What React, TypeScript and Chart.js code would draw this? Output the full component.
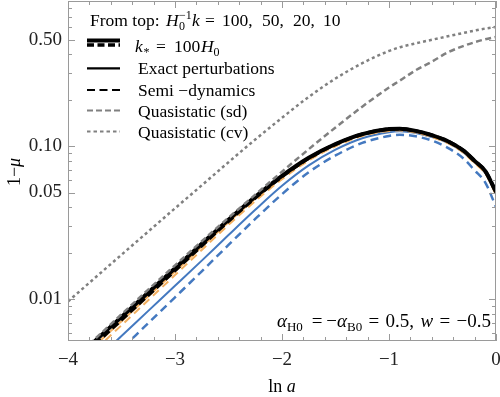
import React, { useEffect, useRef } from "react";
import { Chart, registerables } from "chart.js";

Chart.register(...registerables);

const SERIF = '"Liberation Serif", "Times New Roman", Times, serif';

// ln a grid
const lnA = [-4, -3.75, -3.5, -3.25, -3, -2.75, -2.5, -2.25, -2, -1.75, -1.5, -1.25, -1, -0.9, -0.75, -0.6, -0.45, -0.3, -0.2, -0.1, 0];

// k = 100 (black, thick)
const exactK100 = [0.0037, 0.00534, 0.00769, 0.0111, 0.016, 0.0231, 0.0332, 0.0469, 0.0643, 0.0844, 0.1038, 0.1205, 0.1299, 0.1307, 0.1265, 0.1185, 0.1082, 0.0935, 0.0805, 0.069, 0.0504];
const semiK100 = [0.00352, 0.0051, 0.00736, 0.01067, 0.01546, 0.02247, 0.03252, 0.04615, 0.06356, 0.08382, 0.10332, 0.12022, 0.1299, 0.1307, 0.1265, 0.1185, 0.1082, 0.0935, 0.0805, 0.069, 0.0504];
// k = 50 (orange)
const exactK50 = [0.003414, 0.004984, 0.00721, 0.010479, 0.01521, 0.02211, 0.032, 0.04552, 0.06284, 0.08267, 0.10191, 0.11857, 0.12782, 0.12861, 0.12448, 0.11634, 0.10598, 0.09137, 0.07849, 0.06712, 0.0488];
const semiK50 = [0.003149, 0.004651, 0.006775, 0.009893, 0.014425, 0.021067, 0.0307, 0.04397, 0.06112, 0.08097, 0.10028, 0.11695, 0.12636, 0.12714, 0.12305, 0.11527, 0.10501, 0.09053, 0.07777, 0.0665, 0.04835];
// k = 20 (blue)
const exactK20 = [0.00268, 0.003959, 0.005767, 0.00842, 0.012278, 0.017931, 0.026372, 0.038563, 0.055362, 0.075222, 0.095323, 0.11324, 0.12405, 0.12568, 0.12249, 0.11527, 0.10549, 0.09116, 0.07849, 0.06712, 0.04891];
const semiK20 = [0.002129, 0.003218, 0.004742, 0.007004, 0.01033, 0.015262, 0.022706, 0.033587, 0.048777, 0.067818, 0.087337, 0.10543, 0.11711, 0.1192, 0.11644, 0.10933, 0.098, 0.08295, 0.06979, 0.05806, 0.04022];
// quasistatic
const quasiSd = [0.0038, 0.0055, 0.008, 0.0116, 0.0167, 0.024, 0.0342, 0.0484, 0.0684, 0.096, 0.133, 0.182, 0.243, 0.269, 0.315, 0.358, 0.412, 0.455, 0.48, 0.502, 0.52];
const quasiCv = [0.0097, 0.0138, 0.0196, 0.0278, 0.0394, 0.0557, 0.0789, 0.111, 0.154, 0.211, 0.278, 0.35, 0.421, 0.445, 0.472, 0.498, 0.525, 0.553, 0.572, 0.59, 0.604];

// ticks
const xMajorTicks = [-4, -3, -2, -1, 0];
const xMinorTicks = [-3.8, -3.6, -3.4, -3.2, -2.8, -2.6, -2.4, -2.2, -1.8, -1.6, -1.4, -1.2, -0.8, -0.6, -0.4, -0.2];
const yMajorTicks = [0.01, 0.05, 0.1, 0.5];
const yMinorTicks = [0.006, 0.007, 0.008, 0.009, 0.02, 0.03, 0.04, 0.06, 0.07, 0.08, 0.09, 0.2, 0.3, 0.4, 0.6, 0.7, 0.8];

const BLACK = "#000000";
const ORANGE = "#F2AE5E";
const BLUE = "#4479C0";
const GRAY = "#808080";
const FRAME = "#9a9a9a";

type Seg = { t: string; size: number; italic?: boolean; dy?: number; sup?: string; supDy?: number; at?: number; gap?: number };

function fnt(size: number, italic = false) {
  return `${italic ? "italic " : ""}${size}px ${SERIF}`;
}

function segWidth(ctx: CanvasRenderingContext2D, s: Seg) {
  ctx.font = fnt(s.size, s.italic);
  let sw = ctx.measureText(s.t).width;
  if (s.sup) sw = Math.max(sw, ctx.measureText(s.sup).width);
  return sw;
}

function segsWidth(ctx: CanvasRenderingContext2D, segs: Seg[]) {
  let w = 0;
  for (const s of segs) w += segWidth(ctx, s) + (s.gap || 0);
  return w;
}

// draws segments; a segment with "at" is placed at that absolute x
function drawSegs(ctx: CanvasRenderingContext2D, x: number, y: number, segs: Seg[]) {
  for (const s of segs) {
    if (s.at !== undefined) x = s.at;
    ctx.font = fnt(s.size, s.italic);
    ctx.fillText(s.t, x, y + (s.dy || 0));
    if (s.sup) ctx.fillText(s.sup, x, y + (s.supDy || 0));
    x += segWidth(ctx, s) + (s.gap || 0);
  }
}

function line(ctx: CanvasRenderingContext2D, x1: number, x2: number, y: number, color: string, width: number, dash: number[]) {
  ctx.save();
  ctx.strokeStyle = color;
  ctx.lineWidth = width;
  ctx.setLineDash(dash);
  ctx.beginPath();
  ctx.moveTo(x1, y);
  ctx.lineTo(x2, y);
  ctx.stroke();
  ctx.restore();
}

const decorPlugin = {
  id: "decor",
  afterDatasetsDraw(chart: any) {
    const ctx: CanvasRenderingContext2D = chart.ctx;
    const { left, right, top, bottom } = chart.chartArea;
    const xs = chart.scales.x;
    const ys = chart.scales.y;
    ctx.save();
    // frame
    ctx.strokeStyle = FRAME;
    ctx.lineWidth = 1;
    ctx.setLineDash([]);
    ctx.strokeRect(Math.round(left) + 0.5, Math.round(top) + 0.5, Math.round(right - left) - 1, Math.round(bottom - top) - 1);
    const tickX = (v: number, len: number) => {
      const px = Math.round(xs.getPixelForValue(v)) + 0.5;
      ctx.beginPath();
      ctx.moveTo(px, bottom);
      ctx.lineTo(px, bottom - len);
      ctx.moveTo(px, top);
      ctx.lineTo(px, top + len);
      ctx.stroke();
    };
    const tickY = (v: number, len: number) => {
      const py = Math.round(ys.getPixelForValue(v)) + 0.5;
      ctx.beginPath();
      ctx.moveTo(left, py);
      ctx.lineTo(left + len, py);
      ctx.moveTo(right, py);
      ctx.lineTo(right - len, py);
      ctx.stroke();
    };
    xMajorTicks.forEach((v) => tickX(v, 7));
    xMinorTicks.forEach((v) => tickX(v, 4));
    yMajorTicks.forEach((v) => tickY(v, 7));
    yMinorTicks.forEach((v) => tickY(v, 4));

    // legend
    ctx.fillStyle = "#000";
    ctx.textBaseline = "alphabetic";
    ctx.textAlign = "left";
    const L = 17.5;
    drawSegs(ctx, 90, 26, [
      { t: "From top:", size: L, at: 90 },
      { t: "H", size: L, italic: true, at: 166 },
      { t: "0", size: 12, dy: 4, sup: "\u22121", supDy: -7, at: 179 },
      { t: "k", size: L, italic: true, at: 192 },
      { t: "=", size: L, at: 205 },
      { t: "100,", size: L, at: 222 },
      { t: "50,", size: L, at: 262 },
      { t: "20,", size: L, at: 293 },
      { t: "10", size: L, at: 323 },
    ]);
    line(ctx, 87, 120, 40.5, BLACK, 4, []);
    line(ctx, 87, 120, 45, BLACK, 3.5, [7, 3.5]);
    drawSegs(ctx, 135, 51.5, [
      { t: "k", size: L, italic: true, at: 135 },
      { t: "*", size: 12, dy: 4, at: 143.5 },
      { t: "=", size: L, at: 156 },
      { t: "100", size: L, at: 174 },
      { t: "H", size: L, italic: true, at: 201 },
      { t: "0", size: 12, dy: 4, at: 213.5 },
    ]);
    line(ctx, 87, 120, 68.3, BLACK, 2.2, []);
    drawSegs(ctx, 138, 74, [{ t: "Exact perturbations", size: L }]);
    line(ctx, 87, 120, 90, BLACK, 2.2, [8, 4.5]);
    drawSegs(ctx, 138, 95.5, [{ t: "Semi \u2212dynamics", size: L }]);
    line(ctx, 87, 120, 110.5, GRAY, 2, [6, 3]);
    drawSegs(ctx, 138, 117, [{ t: "Quasistatic (sd)", size: L }]);
    line(ctx, 87, 120, 131.5, GRAY, 2, [3.5, 3]);
    drawSegs(ctx, 138, 138, [{ t: "Quasistatic (cv)", size: L }]);

    // annotation, spread between x = 277 and 491
    const A = 19;
    const ann: Seg[] = [
      { t: "\u03b1", size: A, italic: true },
      { t: "H0", size: 13, dy: 4 },
      { t: "=", size: A },
      { t: "\u2212", size: A },
      { t: "\u03b1", size: A, italic: true },
      { t: "B0", size: 13, dy: 4 },
      { t: "=", size: A },
      { t: "0.5,", size: A },
      { t: "w", size: A, italic: true },
      { t: "=", size: A },
      { t: "\u22120.5", size: A },
    ];
    const gapIdx = [1, 2, 5, 6, 7, 8, 9];
    const natural = segsWidth(ctx, ann);
    const extra = Math.max(0, (491 - 277 - natural) / gapIdx.length);
    ann.forEach((s, i) => {
      if (gapIdx.includes(i)) s.gap = extra;
    });
    ann[2].gap = extra * 0.6;
    ann[1].gap = extra * 1.4;
    drawSegs(ctx, 277, 327, ann);

    // x title
    const xt: Seg[] = [
      { t: "ln ", size: 18 },
      { t: "a", size: 18, italic: true },
    ];
    const xw = segsWidth(ctx, xt);
    drawSegs(ctx, 282 - xw / 2, 392, xt);

    // y title
    const yt: Seg[] = [
      { t: "1\u2212", size: 18 },
      { t: "\u03bc", size: 18, italic: true },
    ];
    const yw = segsWidth(ctx, yt);
    ctx.translate(14, 172);
    ctx.rotate(-Math.PI / 2);
    drawSegs(ctx, -yw / 2, 6, yt);
    ctx.restore();
  },
};

function ds(label: string, data: number[], color: string, width: number, dash: number[]) {
  return {
    label,
    data: lnA.map((x, i) => ({ x, y: data[i] })),
    borderColor: color,
    backgroundColor: color,
    borderWidth: width,
    borderDash: dash,
    pointRadius: 0,
    fill: false,
    cubicInterpolationMode: "monotone" as const,
    borderCapStyle: "butt" as const,
  };
}

const zeroPad = (s: any) => {
  s.paddingTop = 0;
  s.paddingBottom = 0;
  s.paddingLeft = 0;
  s.paddingRight = 0;
};

export default function App() {
  const ref = useRef<HTMLCanvasElement | null>(null);
  useEffect(() => {
    if (!ref.current) return;
    const chart = new Chart(ref.current, {
      type: "line",
      data: {
        datasets: [
          ds("Quasistatic (cv)", quasiCv, GRAY, 2.5, [3, 3]),
          ds("Quasistatic (sd)", quasiSd, GRAY, 2.5, [6, 3.5]),
          ds("Exact k=100", exactK100, BLACK, 4, []),
          ds("Semi k=100", semiK100, BLACK, 3.5, [8, 4]),
          ds("Exact k=50", exactK50, ORANGE, 2, []),
          ds("Semi k=50", semiK50, ORANGE, 2, [8, 5]),
          ds("Exact k=20", exactK20, BLUE, 2, []),
          ds("Semi k=20", semiK20, BLUE, 2.5, [8, 5]),
        ],
      },
      options: {
        responsive: false,
        animation: false,
        devicePixelRatio: 1,
        layout: { padding: { top: 1, right: 4, left: 0, bottom: 0 } },
        plugins: { legend: { display: false }, tooltip: { enabled: false } },
        scales: {
          x: {
            type: "linear",
            position: "bottom",
            min: -4,
            max: 0,
            grid: { display: false, drawTicks: false },
            border: { display: false },
            afterFit: (s: any) => {
              s.height = 56;
              zeroPad(s);
            },
            afterBuildTicks: (s: any) => {
              s.ticks = xMajorTicks.map((v) => ({ value: v }));
            },
            ticks: {
              autoSkip: false,
              maxRotation: 0,
              padding: 8,
              color: "#222",
              font: { family: SERIF, size: 19 },
              callback: (v: any) => (Number(v) < 0 ? "\u2212" + Math.abs(Number(v)) : String(v)),
            },
          },
          y: {
            type: "logarithmic",
            position: "left",
            min: 0.00535,
            max: 0.893,
            grid: { display: false, drawTicks: false },
            border: { display: false },
            afterFit: (s: any) => {
              s.width = 68;
              zeroPad(s);
            },
            afterBuildTicks: (s: any) => {
              s.ticks = yMajorTicks.map((v) => ({ value: v }));
            },
            ticks: {
              autoSkip: false,
              padding: 6,
              color: "#222",
              font: { family: SERIF, size: 19 },
              callback: (v: any) => Number(v).toFixed(2),
            },
          },
        },
      },
      plugins: [decorPlugin],
    });
    return () => chart.destroy();
  }, []);
  return (
    <div style={{ position: "absolute", left: 0, top: 0, width: 500, height: 397, background: "#fff" }}>
      <canvas ref={ref} width={500} height={397} style={{ width: 500, height: 397, display: "block" }} />
    </div>
  );
}
